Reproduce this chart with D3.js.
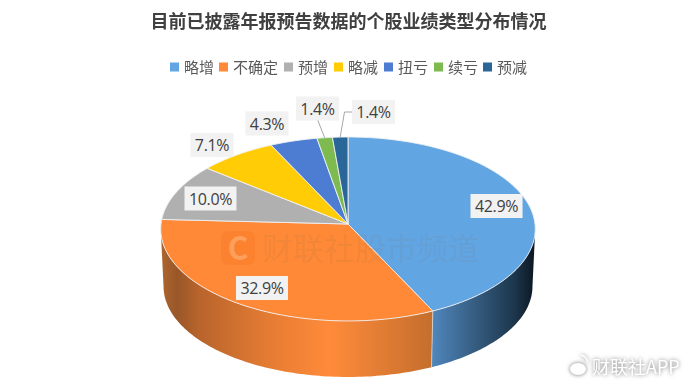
<!DOCTYPE html>
<html><head><meta charset="utf-8">
<style>
html,body{margin:0;padding:0;background:#fff}
svg{display:block;filter:blur(0.35px)}
text{font-family:"Noto Sans CJK SC","Noto Sans",sans-serif}
</style>
<script src="https://cdnjs.cloudflare.com/ajax/libs/d3/7.8.5/d3.min.js"></script>
</head><body><div id="c"></div>
<script>
const categories=["略增","不确定","预增","略减","扭亏","续亏","预减"];
const values=[42.9,32.9,10.0,7.1,4.3,1.4,1.4];
const labels=["42.9%","32.9%","10.0%","7.1%","4.3%","1.4%","1.4%"];
const colors=["#62a5e3","#ff8936","#b0b0b0","#ffcc05","#4d7dd2","#7dbb50","#2b6699"];
const chartTitle="目前已披露年报预告数据的个股业绩类型分布情况";
const watermark="财联社股市频道";
const credit="财联社APP";

const W=692,H=385,cx=348,cy=224,rx=187,ry=91.7,k=0.054,depth=57.5,rimScale=0.985;
const svg=d3.select("#c").append("svg").attr("width",W).attr("height",H);
const defs=svg.append("defs");

const arcs=d3.pie().sort(null).value(d=>d)(values);
// perspective projection of a pie-plane point
function proj(a,r=1,dy=0){
  const w=1/(1+k*Math.cos(a));
  return [cx+rx*r*Math.sin(a)*w, cy+dy-ry*r*Math.cos(a)*w];
}
const line=d3.line();
function samples(a0,a1){
  const n=Math.max(2,Math.ceil(Math.abs(a1-a0)/0.02));
  return d3.range(n+1).map(i=>a0+(a1-a0)*i/n);
}
// walls
const wallStart=Math.acos(-k), wallEnd=2*Math.PI-wallStart;
const wallStops=[
 [{o:0,c:"#4f86bb"},{o:0.45,c:"#33597c"},{o:0.8,c:"#1c364c"},{o:1,c:"#0b1620"}],
 [{o:0,c:"#ae6630"},{o:0.06,c:"#995728"},{o:0.14,c:"#b8642c"},{o:0.4,c:"#e57c33"},{o:0.62,c:"#ff8b3a"},{o:1,c:"#c46e2d"}]
];
arcs.slice(0,2).forEach((d,i)=>{
  const a0=Math.max(d.startAngle,wallStart),a1=Math.min(d.endAngle,wallEnd);
  if(a1<=a0)return;
  const xs=[proj(a0)[0],proj(a1)[0]];
  const g=defs.append("linearGradient").attr("id","w"+i).attr("gradientUnits","userSpaceOnUse")
    .attr("x1",Math.min(...xs)).attr("x2",Math.max(...xs)).attr("y1",0).attr("y2",0);
  g.selectAll("stop").data(wallStops[i]).join("stop").attr("offset",s=>s.o).attr("stop-color",s=>s.c);
  const top=samples(a0,a1).map(a=>proj(a));
  const bot=samples(a1,a0).map(a=>proj(a,rimScale,depth));
  svg.append("path").attr("d",line(top.concat(bot))+"Z").attr("fill",`url(#w${i})`).attr("stroke","none");
});
// wall seam
const seam=arcs[0].endAngle;
svg.append("line").attr("x1",proj(seam)[0]).attr("y1",proj(seam)[1])
  .attr("x2",proj(seam,rimScale,depth)[0]).attr("y2",proj(seam,rimScale,depth)[1])
  .attr("stroke","#d9d9d9").attr("stroke-width",0.8);
// top face
svg.append("g").selectAll("path").data(arcs).join("path")
  .attr("d",d=>line([[cx,cy]].concat(samples(d.startAngle,d.endAngle).map(a=>proj(a))))+"Z")
  .attr("fill",(d,i)=>colors[i]).attr("stroke","#f0f0f0").attr("stroke-width",0.9).attr("stroke-linejoin","round");
// watermark
const wm=svg.append("g");
wm.append("rect").attr("x",221).attr("y",231).attr("width",34).attr("height",34).attr("rx",7).attr("fill","#f5701e").attr("opacity",.25);
wm.append("text").attr("x",238).attr("y",260).attr("text-anchor","middle").attr("font-size",32).attr("font-weight",700).attr("fill","#ffa96a").attr("opacity",.75).text("C");
wm.append("text").attr("x",262).attr("y",260).attr("font-size",31).attr("fill","#7a6a55").attr("opacity",.09).text(watermark);
// title
svg.append("text").attr("x",348.5).attr("y",27.5).attr("text-anchor","middle").attr("font-size",18).attr("font-weight",700).attr("fill","#404040").text(chartTitle);
// legend
const legendX=[170,219,284,334,384,434,483];
const lg=svg.append("g").selectAll("g").data(categories).join("g").attr("transform",(d,i)=>`translate(${legendX[i]},67)`);
lg.append("rect").attr("y",-4.5).attr("width",9).attr("height",9).attr("fill",(d,i)=>colors[i]);
lg.append("text").attr("x",14).attr("y",6).attr("font-size",15).attr("fill","#595959").text(d=>d);
// labels
const boxW=[52,52,52,43,43,43,43];
const targets=[[496.5,206],[262,288],[210.5,198.5],[212,145],[267,123.5],[317.5,108.5],[373.5,112]];
[5,6].forEach(i=>{
  const d=arcs[i],m=(d.startAngle+d.endAngle)/2,p=proj(m);
  const t=targets[i];
  const pts2=i===5?[[t[0],t[1]+11],p]:[[t[0]-21.5,t[1]],[t[0]-29,t[1]],p];
  svg.append("path").attr("d",line(pts2)).attr("fill","none").attr("stroke","#a6a6a6").attr("stroke-width",1);
});
const lb=svg.append("g").selectAll("g").data(labels).join("g").attr("transform",(d,i)=>`translate(${targets[i][0]},${targets[i][1]})`);
lb.append("rect").attr("x",(d,i)=>-boxW[i]/2).attr("y",-12).attr("width",(d,i)=>boxW[i]).attr("height",24).attr("fill","#f2f2f2");
lb.append("text").attr("text-anchor","middle").attr("y",6).attr("font-size",16).attr("letter-spacing",-0.35).attr("fill","#404040").style("font-family","'Open Sans',sans-serif").text(d=>d);
// credit with weibo-like mark
const shadow="drop-shadow(0 0 2px rgba(0,0,0,.55))";
const logo=svg.append("g").style("filter",shadow);
logo.append("ellipse").attr("cx",578).attr("cy",369).attr("rx",8).attr("ry",6).attr("fill","#fff");
logo.append("path").attr("d",d3.arc()({innerRadius:7,outerRadius:8.5,startAngle:0.1,endAngle:1.5})).attr("transform","translate(580,363)").attr("fill","#fff");
svg.append("text").attr("x",592).attr("y",374).attr("font-size",18).attr("fill","#fff").style("filter",shadow).text(credit);
</script></body></html>
